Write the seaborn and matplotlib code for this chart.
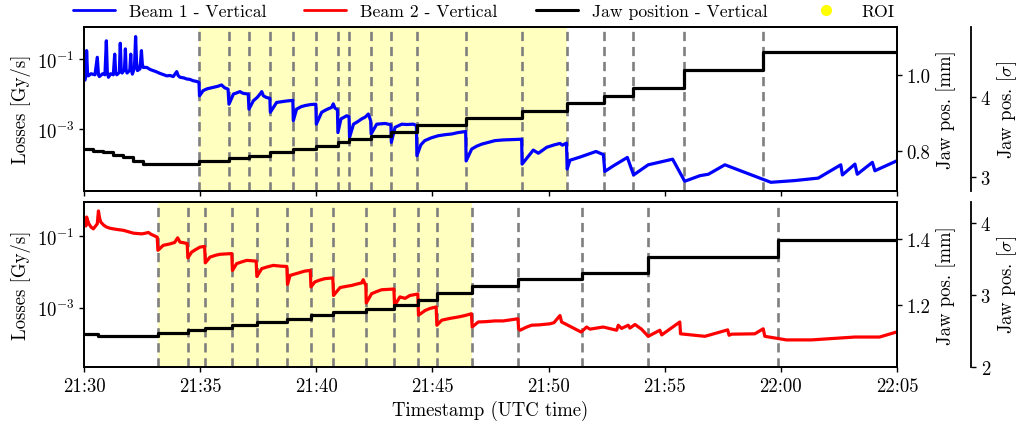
import numpy as np
import matplotlib
matplotlib.use("Agg")
import matplotlib.pyplot as plt
import seaborn as sns
from matplotlib.lines import Line2D
from matplotlib.ticker import FixedLocator, NullLocator, FixedFormatter

# ---------------------------------------------------------------- data
# time axis: minutes after 21:30 UTC
x_tick_min = [0, 5, 10, 15, 20, 25, 30, 35]
x_tick_labels = ["21:30", "21:35", "21:40", "21:45", "21:50", "21:55", "22:00", "22:05"]

# Beam 1 vertical losses (time [min], log10 of loss [Gy/s])
b1_t = [0.04, 0.09, 0.11, 0.15, 0.19, 0.30, 0.47, 0.57, 0.62, 0.66, 0.80, 0.90, 0.96, 1.00, 1.05,
        1.15, 1.26, 1.32, 1.36, 1.41, 1.52, 1.56, 1.60, 1.64, 1.74, 1.78, 1.81, 1.85, 1.97, 2.01,
        2.04, 2.08, 2.17, 2.22, 2.26, 2.30, 2.41, 2.47, 2.51, 2.55, 2.70, 2.85, 2.98, 3.10, 3.27,
        3.40, 3.56, 3.70, 3.84, 3.99, 4.05, 4.13, 4.30, 4.42, 4.55, 4.70, 4.85, 4.95,
        4.97, 5.13, 5.30, 5.56, 5.75, 5.92, 6.05, 6.20,
        6.24, 6.43, 6.60, 6.71, 6.85, 7.07,
        7.10, 7.29, 7.45, 7.60, 7.65, 7.72, 7.86, 8.00,
        8.02, 8.29, 8.50, 8.70, 8.99,
        9.01, 9.15, 9.35, 9.51, 9.75, 9.98,
        10.00, 10.23, 10.45, 10.66, 10.73, 10.80, 10.91,
        10.93, 11.06, 11.20, 11.31, 11.41,
        11.43, 11.60, 11.80, 11.95, 12.10, 12.24, 12.34,
        12.36, 12.60, 12.80, 12.96, 13.10, 13.21,
        13.23, 13.39, 13.55, 13.68, 13.90, 14.18, 14.31,
        14.33, 14.50, 14.67, 14.95, 15.25, 15.55, 15.83, 16.10, 16.43,
        16.45, 16.69, 16.90, 17.12, 17.40, 17.69, 18.05, 18.40, 18.84,
        18.86, 19.34, 19.56, 19.92, 20.25, 20.49, 20.60, 20.77,
        20.80, 20.92, 21.35, 22.04, 22.36,
        22.42, 22.79, 23.39,
        23.66, 24.29, 25.34,
        25.86, 26.52, 26.88, 27.59, 28.46, 29.57, 30.61, 31.61, 32.58, 32.65, 33.19, 33.29,
        33.94, 34.05, 34.98]
b1_log = [-1.60, -1.45, -0.76, -1.40, -1.48, -1.42, -1.45, -0.95, -1.45, -1.50, -1.42, -1.45, -0.48, -1.35, -1.52,
          -1.42, -1.45, -0.86, -1.38, -1.45, -1.38, -0.55, -1.30, -1.40, -1.30, -0.71, -1.30, -1.40, -1.32, -0.86,
          -1.30, -1.43, -1.25, -0.36, -1.10, -1.33, -1.28, -0.76, -1.15, -1.24, -1.24, -1.30, -1.33, -1.36, -1.41,
          -1.44, -1.48, -1.47, -1.50, -1.36, -1.47, -1.52, -1.54, -1.57, -1.58, -1.62, -1.64, -1.67,
          -2.05, -1.90, -1.85, -1.81, -1.78, -1.74, -1.82, -1.86,
          -2.29, -2.00, -1.96, -1.93, -1.98, -2.00,
          -2.43, -2.19, -2.10, -1.98, -1.93, -2.05, -2.10, -2.12,
          -2.52, -2.24, -2.22, -2.20, -2.18,
          -2.76, -2.43, -2.36, -2.33, -2.30, -2.29,
          -2.86, -2.52, -2.44, -2.38, -2.28, -2.40, -2.45,
          -3.10, -2.71, -2.66, -2.62, -2.65,
          -3.24, -2.86, -2.78, -2.71, -2.66, -2.57, -2.76,
          -3.14, -2.86, -2.85, -2.84, -2.86, -2.88,
          -3.38, -2.95, -2.90, -2.86, -2.87, -2.86, -2.90,
          -3.76, -3.45, -3.33, -3.25, -3.19, -3.16, -3.14, -3.10, -3.07,
          -3.91, -3.57, -3.49, -3.43, -3.38, -3.33, -3.31, -3.30, -3.29,
          -4.00, -3.60, -3.69, -3.52, -3.45, -3.41, -3.46, -3.40,
          -4.14, -3.89, -3.80, -3.64, -3.73,
          -4.21, -4.05, -3.81,
          -4.31, -4.02, -3.86,
          -4.49, -4.33, -4.29, -4.02, -4.24, -4.52, -4.47, -4.40, -4.02, -4.31, -4.00, -4.29,
          -3.95, -4.19, -3.91]

# Beam 2 vertical losses (time [min], log10 of loss [Gy/s])
b2_t = [0.04, 0.08, 0.11, 0.20, 0.30, 0.40, 0.50, 0.57, 0.62, 0.67, 0.72, 0.85, 0.97, 1.10, 1.26,
        1.45, 1.69, 1.90, 2.12, 2.30, 2.48, 2.65, 2.77, 2.88, 2.98, 3.15,
        3.18, 3.41, 3.70, 3.90, 4.03, 4.13, 4.30, 4.44,
        4.47, 4.63, 4.80, 4.99, 5.19,
        5.22, 5.42, 5.65, 5.85, 6.10, 6.36,
        6.39, 6.57, 6.80, 7.00, 7.20, 7.41,
        7.44, 7.65, 7.90, 8.15, 8.45, 8.73,
        8.76, 8.87, 9.23, 9.50, 9.74,
        9.77, 9.94, 10.15, 10.37, 10.71,
        10.74, 11.02, 11.25, 11.52, 11.75, 11.95, 12.02, 12.09, 12.13,
        12.15, 12.38, 12.60, 12.81, 13.10, 13.34,
        13.37, 13.60, 13.82, 14.03, 14.20, 14.37,
        14.40, 14.68, 14.90, 15.16,
        15.19, 15.40, 15.75, 16.11, 16.40, 16.68,
        16.71, 16.97, 17.30, 17.69, 18.05, 18.35, 18.68,
        18.71, 18.77, 19.06, 19.27, 19.60, 20.06, 20.23, 20.49, 20.56, 21.40, 21.64, 21.78,
        22.35, 22.93, 23.00, 23.14, 23.43, 23.50, 23.72, 24.00, 24.29, 24.79, 24.87, 25.65,
        25.68, 26.73, 27.71, 27.77, 27.88, 28.88, 29.24, 29.31, 30.24, 31.32, 33.18, 34.25, 34.98]
b2_log = [-0.56, -0.72, -0.47, -0.65, -0.75, -0.80, -0.72, -0.66, -0.30, -0.50, -0.61, -0.70, -0.75, -0.78, -0.80,
          -0.82, -0.84, -0.88, -0.92, -0.93, -0.94, -0.92, -0.90, -0.95, -0.98, -1.03,
          -1.40, -1.26, -1.22, -1.18, -1.05, -1.17, -1.19, -1.21,
          -1.61, -1.45, -1.38, -1.31, -1.29,
          -1.75, -1.59, -1.54, -1.51, -1.50, -1.49,
          -1.96, -1.77, -1.72, -1.68, -1.69, -1.70,
          -2.13, -1.91, -1.86, -1.82, -1.84, -1.85,
          -2.35, -2.10, -2.03, -1.98, -1.96,
          -2.42, -2.28, -2.23, -2.19, -2.17,
          -2.66, -2.44, -2.41, -2.38, -2.34, -2.31, -2.22, -2.33, -2.35,
          -2.87, -2.61, -2.55, -2.50, -2.49, -2.48,
          -2.94, -2.70, -2.74, -2.66, -2.64, -2.62,
          -3.21, -3.08, -3.02, -2.98,
          -3.49, -3.35, -3.30, -3.26, -3.22, -3.17,
          -3.54, -3.40, -3.39, -3.37, -3.37, -3.34, -3.31,
          -3.59, -3.63, -3.54, -3.49, -3.48, -3.45, -3.42, -3.22, -3.40, -3.68, -3.54, -3.60,
          -3.54, -3.63, -3.49, -3.58, -3.49, -3.57, -3.47, -3.60, -3.80, -3.63, -3.76, -3.40,
          -3.73, -3.80, -3.62, -3.77, -3.74, -3.73, -3.59, -3.80, -3.90, -3.90, -3.82, -3.82, -3.68]

# jaw position steps (start time [min], position [mm])
jaw1_t = [0.04, 0.40, 0.83, 1.26, 1.69, 2.12, 2.55, 4.97, 6.23, 7.09, 8.01, 9.01, 9.99, 10.92,
          11.42, 12.35, 13.22, 14.32, 16.44, 18.85, 20.78, 22.39, 23.65, 25.84, 29.24, 35.0]
jaw1_mm = [0.804, 0.800, 0.796, 0.789, 0.783, 0.774, 0.765, 0.774, 0.781, 0.787, 0.796, 0.804,
           0.813, 0.822, 0.831, 0.840, 0.850, 0.868, 0.886, 0.905, 0.925, 0.945, 0.965, 1.012,
           1.059, 1.059]
jaw2_t = [0.04, 0.62, 3.17, 4.46, 5.21, 6.38, 7.43, 8.75, 9.76, 10.73, 12.14, 13.36, 14.39, 15.18,
          16.70, 18.70, 21.42, 24.29, 29.86, 35.0]
jaw2_mm = [1.114, 1.108, 1.116, 1.124, 1.132, 1.141, 1.149, 1.159, 1.170, 1.180, 1.190, 1.200,
           1.217, 1.238, 1.258, 1.280, 1.298, 1.346, 1.397, 1.397]

# jaw movements and regions of interest
moves1 = [4.96, 6.23, 7.09, 8.01, 9.01, 9.99, 10.92, 11.42, 12.35, 13.22, 14.32, 16.44,
          18.85, 20.78, 22.39, 23.65, 25.84, 29.24]
roi1 = (4.96, 20.78)
moves2 = [3.17, 4.46, 5.21, 6.38, 7.43, 8.75, 9.76, 10.73, 12.14, 13.36, 14.39, 15.18, 16.70,
          18.70, 21.42, 24.29, 29.86]
roi2 = (3.17, 16.70)

legend_labels = ["Beam 1 - Vertical", "Beam 2 - Vertical", "Jaw position - Vertical", "ROI"]

# ---------------------------------------------------------------- style
sns.set_theme(style="ticks")
FS = 13.5
plt.rcParams.update({
    "font.family": ["cmr10"],
    "mathtext.fontset": "cm",
    "axes.formatter.use_mathtext": True,
    "font.size": FS,
    "axes.labelsize": FS,
    "xtick.labelsize": FS,
    "ytick.labelsize": FS,
    "legend.fontsize": 12.7,
    "text.color": "black",
    "axes.labelcolor": "black",
    "axes.linewidth": 1.3,
    "axes.edgecolor": "black",
    "xtick.major.size": 3.5,
    "ytick.major.size": 3.5,
    "xtick.major.width": 1.0,
    "ytick.major.width": 1.0,
    "xtick.color": "black",
    "ytick.color": "black",
})

fig = plt.figure(figsize=(10.2, 4.31), dpi=100)
ax_top = fig.add_axes([0.0824, 0.5552, 0.797, 0.3805])
ax_bot = fig.add_axes([0.0824, 0.1462, 0.797, 0.3835])

panels = [
    dict(ax=ax_top, t=b1_t, lg=b1_log, color="#0000ff", jt=jaw1_t, jmm=jaw1_mm, moves=moves1,
         roi=roi1, ylog=(-4.76, -0.077), mm_lim=(0.695, 1.126), mm_ticks=[0.8, 1.0],
         sig_lim=(2.834, 4.868), sig_ticks=[3, 4]),
    dict(ax=ax_bot, t=b2_t, lg=b2_log, color="#ff0000", jt=jaw2_t, jmm=jaw2_mm, moves=moves2,
         roi=roi2, ylog=(-4.656, -0.042), mm_lim=(1.013, 1.514), mm_ticks=[1.2, 1.4],
         sig_lim=(2.0, 4.30), sig_ticks=[2, 3, 4]),
]

for p in panels:
    ax = p["ax"]
    ax.axvspan(p["roi"][0], p["roi"][1], color="#ffff00", alpha=0.25, lw=0, zorder=0)
    for m in p["moves"]:
        ax.axvline(m, color="#7f7f7f", ls=(0, (3.5, 2.2)), lw=1.9, zorder=1)
    sns.lineplot(x=p["t"], y=10 ** np.asarray(p["lg"]), ax=ax, color=p["color"], lw=2.3,
                 estimator=None, sort=False, zorder=3)
    ax.set_yscale("log")
    ax.set_ylim(10 ** p["ylog"][0], 10 ** p["ylog"][1])
    ax.yaxis.set_major_locator(FixedLocator([1e-3, 1e-1]))
    ax.yaxis.set_minor_locator(NullLocator())
    ax.set_xlim(0, 35)
    ax.xaxis.set_major_locator(FixedLocator(x_tick_min))
    ax.xaxis.set_major_formatter(FixedFormatter(x_tick_labels))
    ax.set_ylabel("Losses [Gy/s]")
    for s in ax.spines.values():
        s.set_visible(True)

    # jaw position in mm
    axj = ax.twinx()
    sns.lineplot(x=p["jt"], y=p["jmm"], ax=axj, color="black", lw=2.3, drawstyle="steps-post",
                 estimator=None, sort=False)
    axj.set_ylim(*p["mm_lim"])
    axj.yaxis.set_major_locator(FixedLocator(p["mm_ticks"]))
    axj.set_yticklabels([f"{v:.1f}" for v in p["mm_ticks"]])
    axj.set_ylabel("Jaw pos. [mm]")

    # jaw position in beam sigma
    axs = ax.twinx()
    axs.spines["right"].set_position(("axes", 1.091))
    for side in ("top", "left", "bottom"):
        axs.spines[side].set_visible(False)
    axs.set_ylim(*p["sig_lim"])
    axs.yaxis.set_major_locator(FixedLocator(p["sig_ticks"]))
    axs.set_yticklabels([str(v) for v in p["sig_ticks"]])
    axs.set_ylabel(r"Jaw pos. [$\sigma$]")

ax_top.tick_params(axis="x", labelbottom=False)
ax_bot.set_xlabel("Timestamp (UTC time)")

handles = [
    Line2D([], [], color="#0000ff", lw=2.0),
    Line2D([], [], color="#ff0000", lw=2.0),
    Line2D([], [], color="black", lw=2.2),
    Line2D([], [], color="#ffff00", marker="o", ls="none", markersize=7),
]
fig.legend(handles, legend_labels, loc="center", bbox_to_anchor=(0.474, 0.972), ncol=4,
           frameon=False, handlelength=2.4, columnspacing=2.15, handletextpad=0.78)

fig.savefig("out.png", dpi=100)
